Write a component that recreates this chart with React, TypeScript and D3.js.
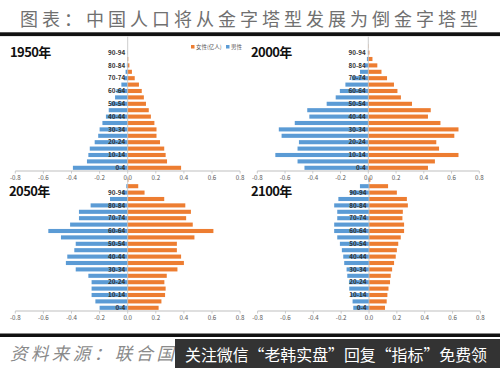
import React from "react";
import * as d3 from "d3";

const ages = ["0-4", "5-9", "10-14", "15-19", "20-24", "25-29", "30-34", "35-39", "40-44", "45-49", "50-54",
  "55-59", "60-64", "65-69", "70-74", "75-79", "80-84", "85-89", "90-94", "95-99", "100+"];

// 亿人, from youngest to oldest
const male1950 = [0.39, 0.29, 0.28, 0.27, 0.235, 0.21, 0.2, 0.18, 0.155, 0.135, 0.12, 0.09, 0.08, 0.045, 0.027, 0.015, 0.006, 0.002, 0.001, 0, 0];
const female1950 = [0.38, 0.28, 0.27, 0.26, 0.23, 0.205, 0.205, 0.19, 0.165, 0.15, 0.13, 0.115, 0.1, 0.08, 0.05, 0.03, 0.012, 0.004, 0.001, 0, 0];

const male2000 = [0.46, 0.51, 0.67, 0.51, 0.5, 0.625, 0.645, 0.53, 0.425, 0.44, 0.3, 0.235, 0.205, 0.165, 0.12, 0.06, 0.025, 0.01, 0.003, 0, 0];
const female2000 = [0.43, 0.48, 0.65, 0.51, 0.49, 0.62, 0.65, 0.52, 0.43, 0.45, 0.315, 0.235, 0.21, 0.185, 0.135, 0.095, 0.065, 0.03, 0.008, 0.002, 0];

const male2050 = [0.2, 0.23, 0.257, 0.257, 0.257, 0.28, 0.37, 0.44, 0.43, 0.38, 0.37, 0.475, 0.565, 0.41, 0.347, 0.347, 0.264, 0.126, 0.04, 0.01, 0];
const female2050 = [0.22, 0.24, 0.266, 0.27, 0.261, 0.278, 0.354, 0.4, 0.38, 0.35, 0.35, 0.475, 0.61, 0.463, 0.416, 0.45, 0.41, 0.26, 0.12, 0.075, 0.005];

const male2100 = [0.113, 0.118, 0.13, 0.142, 0.144, 0.156, 0.161, 0.178, 0.185, 0.195, 0.209, 0.228, 0.25, 0.25, 0.228, 0.228, 0.25, 0.22, 0.137, 0.065, 0.005];
const female2100 = [0.115, 0.127, 0.132, 0.14, 0.151, 0.156, 0.166, 0.18, 0.192, 0.2, 0.21, 0.228, 0.252, 0.252, 0.24, 0.243, 0.279, 0.272, 0.2, 0.137, 0.01];

const xTicks = [-0.8, -0.6, -0.4, -0.2, 0, 0.2, 0.4, 0.6, 0.8];

const ORANGE = "#ED7D31";
const BLUE = "#5B9BD5";
const FONT = "'Noto Sans CJK SC', 'Liberation Sans', Arial, sans-serif";

const panels = [
  { title: "1950年", male: male1950, female: female1950, xr: [15.3, 240.1], yr: [36.6, 171], tx: 10, ty: 57, legend: true },
  { title: "2000年", male: male2000, female: female2000, xr: [257.3, 479.3], yr: [36.6, 171], tx: 251, ty: 57, legend: false },
  { title: "2050年", male: male2050, female: female2050, xr: [15.3, 240.1], yr: [176.6, 311], tx: 9, ty: 196, legend: false },
  { title: "2100年", male: male2100, female: female2100, xr: [257.6, 480.4], yr: [176.6, 311], tx: 251, ty: 196, legend: false },
];

const fmt = (v: number) => (v < 0 ? "-" : "") + Math.abs(v).toFixed(1);

function Pyramid({ p }: { p: (typeof panels)[number] }) {
  const x = d3.scaleLinear().domain([-0.8, 0.8]).range(p.xr);
  const y = d3.scaleBand().domain(ages).range([p.yr[1], p.yr[0]]).paddingInner(0.36).paddingOuter(0.18);
  const x0 = x(0);
  const axisY = p.yr[1];
  return (
    <g>
      {ages.map((a, i) => (
        <g key={a}>
          <rect x={x(-p.male[i])} y={y(a)} width={x0 - x(-p.male[i])} height={y.bandwidth()} fill={BLUE} />
          <rect x={x0} y={y(a)} width={x(p.female[i]) - x0} height={y.bandwidth()} fill={ORANGE} />
        </g>
      ))}
      <line x1={x0} x2={x0} y1={p.yr[0]} y2={axisY} stroke="#bfbfbf" strokeWidth={0.8} />
      <line x1={p.xr[0]} x2={p.xr[1]} y1={axisY} y2={axisY} stroke="#bfbfbf" strokeWidth={1} />
      {xTicks.map((t) => (
        <g key={t}>
          <line x1={x(t)} x2={x(t)} y1={axisY} y2={axisY + 2.5} stroke="#bfbfbf" strokeWidth={0.8} />
          <text x={x(t)} y={axisY + 8.5} fontSize={6.2} textAnchor="middle" fill="#595959" fontFamily={FONT}>
            {fmt(t)}
          </text>
        </g>
      ))}
      {ages.map((a, i) =>
        i % 2 === 0 && i <= 18 ? (
          <text key={a} x={x0 - 2.5} y={y(a)! + y.bandwidth() / 2 + 2.2} fontSize={6.3} textAnchor="end"
            fill="#333" fontWeight="bold" fontFamily={FONT}>
            {a}
          </text>
        ) : null
      )}
      <text x={p.tx} y={p.ty} fontSize={13} fontWeight="bold" fill="#111" letterSpacing={-0.6} fontFamily={FONT}>
        {p.title}
      </text>
      {p.legend && (
        <g fontFamily={FONT} fontSize={5.5} fill="#595959">
          <rect x={191} y={45} width={3.5} height={3.5} fill={ORANGE} />
          <text x={196} y={49.2}>女性(亿人)</text>
          <rect x={226} y={45} width={3.5} height={3.5} fill={BLUE} />
          <text x={231} y={49.2}>男性</text>
        </g>
      )}
    </g>
  );
}

export default function App() {
  return (
    <svg width={500} height={368} style={{ position: "absolute", left: 0, top: 0, background: "#fff" }}>
      <rect width={500} height={368} fill="#fff" />
      <text x={20} y={26} fontSize={18} fill="#707070" fontFamily={FONT} textLength={458} lengthAdjust="spacing">
        图表：中国人口将从金字塔型发展为倒金字塔型
      </text>
      <rect x={0} y={32.3} width={500} height={3.8} fill="#111" />
      {panels.map((p) => (
        <Pyramid key={p.title} p={p} />
      ))}
      <rect x={0} y={333.5} width={500} height={3.5} fill="#111" />
      <text x={10} y={360} fontSize={17.5} fill="#8a8a8a" fontStyle="italic" fontFamily={FONT} textLength={164} lengthAdjust="spacing">
        资料来源：联合国
      </text>
      <rect x={175} y={339} width={325} height={29} fill="#333" />
      <text x={185} y={360.5} fontSize={16} fill="#fff" fontFamily={FONT} textLength={302} lengthAdjust="spacingAndGlyphs">
        关注微信“老韩实盘”回复“指标”免费领
      </text>
    </svg>
  );
}
